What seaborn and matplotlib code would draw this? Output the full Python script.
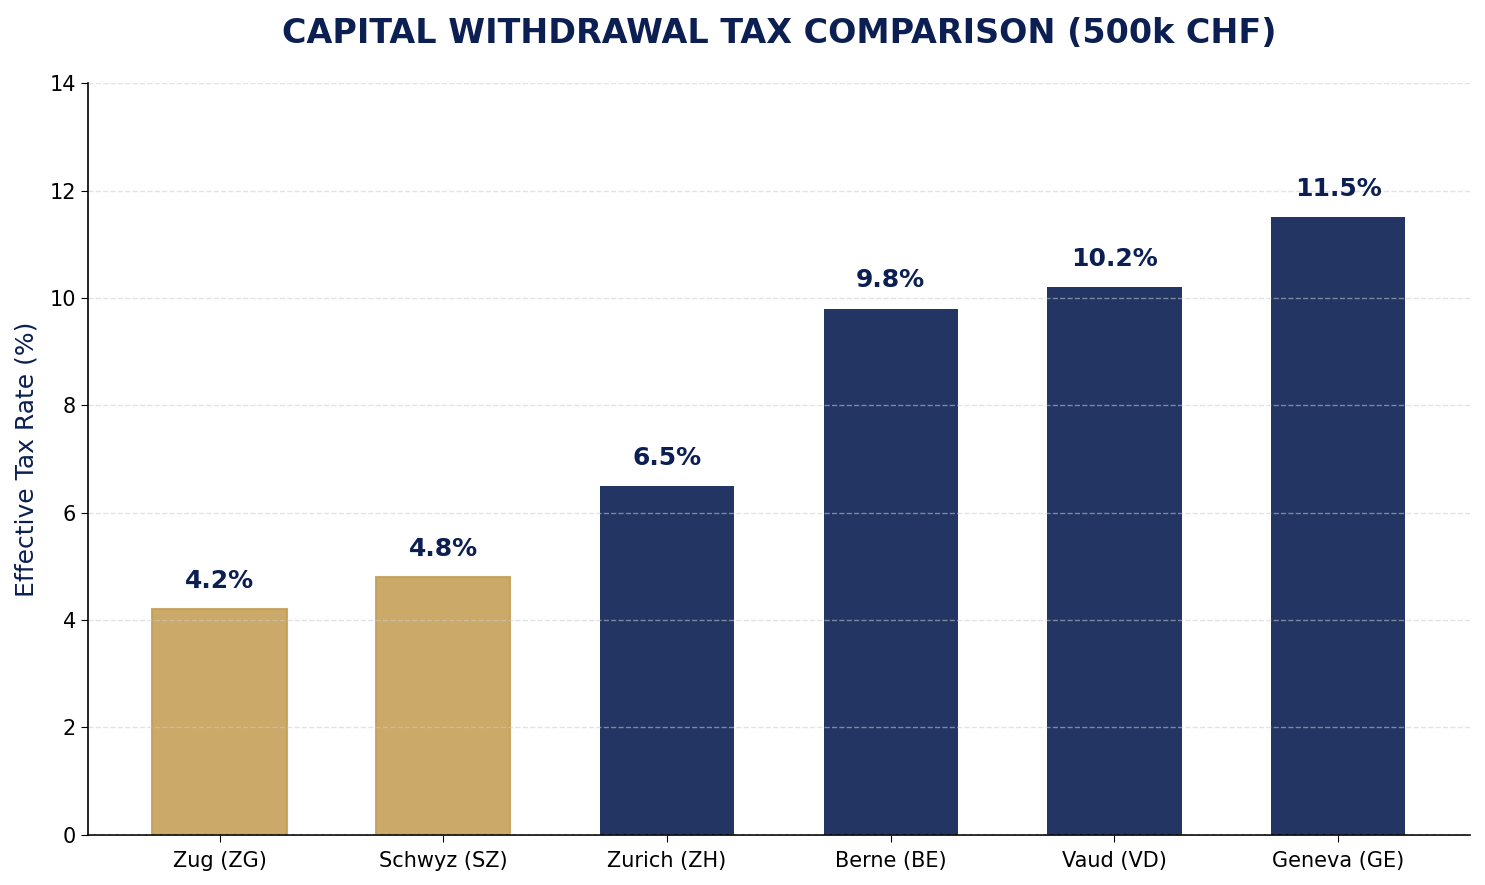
import matplotlib
matplotlib.use("Agg")
import matplotlib.pyplot as plt
import seaborn as sns
import pandas as pd

cantons = ["Zug (ZG)", "Schwyz (SZ)", "Zurich (ZH)", "Berne (BE)", "Vaud (VD)", "Geneva (GE)"]
rates = [4.2, 4.8, 6.5, 9.8, 10.2, 11.5]
groups = ["low", "low", "high", "high", "high", "high"]

NAVY = "#0B1F52"
GOLD = "#C5A059"

sns.set_style("ticks")
plt.rcParams['font.family'] = ['DejaVu Sans']
for k in ["text.color", "axes.labelcolor", "xtick.color", "ytick.color", "axes.edgecolor"]:
    plt.rcParams[k] = "black"

df = pd.DataFrame({"canton": cantons, "rate": rates, "group": groups})

fig, ax = plt.subplots(figsize=(14.85, 8.85), dpi=100)
sns.barplot(data=df, x="canton", y="rate", hue="group",
            palette={"low": GOLD, "high": NAVY}, dodge=False, width=0.6,
            alpha=0.9, legend=False, ax=ax, saturation=1)
for p, g in zip(ax.patches, groups):
    if g == "low":
        p.set_edgecolor(GOLD)
        p.set_linewidth(1.5)
    else:
        p.set_linewidth(0)

for i, v in enumerate(rates):
    ax.text(i, v + 0.3, f"{v}%", ha="center", va="bottom", fontsize=18,
            fontweight="bold", color=NAVY)

ax.set_ylim(0, 14)
ax.set_xlim(-0.59, 5.59)
ax.set_xlabel("")
ax.set_ylabel("Effective Tax Rate (%)", fontsize=18, color=NAVY, labelpad=8)
ax.set_title("CAPITAL WITHDRAWAL TAX COMPARISON (500k CHF)", fontsize=24,
             fontweight="bold", color=NAVY, pad=29)
ax.tick_params(axis="both", labelsize=15, length=5, color="black", labelcolor="black")
ax.tick_params(axis="x", pad=7)
ax.yaxis.grid(True, linestyle="--", color="#cccccc", alpha=0.55, linewidth=1)
ax.set_axisbelow(False)
for s in ["left", "bottom"]:
    ax.spines[s].set_color("black")
    ax.spines[s].set_linewidth(1.2)
sns.despine(ax=ax)
fig.subplots_adjust(left=0.059, right=0.99, top=0.906, bottom=0.057)
fig.savefig("out.png", dpi=100)
